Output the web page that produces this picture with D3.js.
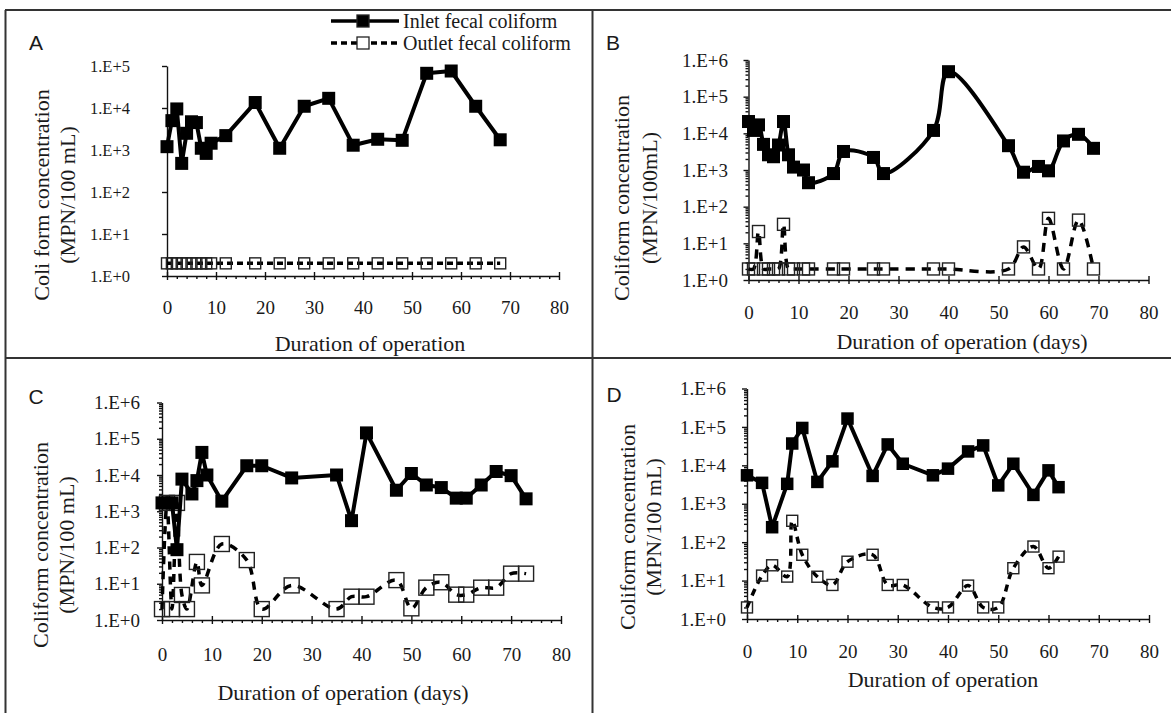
<!DOCTYPE html>
<html>
<head>
<meta charset="utf-8">
<script src="https://cdn.jsdelivr.net/npm/d3@7"></script>
<style>
  html, body { margin: 0; padding: 0; background: #fff; }
  svg { display: block; }
  text { font-family: "Liberation Serif", "Times New Roman", serif; fill: #1a1a1a; }
</style>
</head>
<body>
<svg id="fig" width="1171" height="713"></svg>
<script>
// ---- Panel A: fecal coliform, inlet vs outlet (MPN/100 mL) ----
const daysA   = [0, 1, 2, 3, 4, 5, 6, 7, 8, 9, 12, 18, 23, 28, 33, 38, 43, 48, 53, 58, 63, 68];
const inletA  = [1200, 5000, 9500, 480, 2500, 4700, 4500, 1100, 830, 1450, 2200, 13500, 1100, 11000, 17000, 1300, 1800, 1700, 67000, 76000, 11000, 1750];
const outletA = [2, 2, 2, 2, 2, 2, 2, 2, 2, 2, 2, 2, 2, 2, 2, 2, 2, 2, 2, 2, 2, 2];

// ---- Panel B ----
const daysB   = [0, 1, 2, 3, 4, 5, 6, 7, 8, 9, 11, 12, 17, 19, 25, 27, 37, 40, 52, 55, 58, 60, 63, 66, 69];
const inletB  = [21000, 12000, 17000, 5000, 2600, 2300, 4800, 21000, 2600, 1200, 1000, 450, 800, 3200, 2200, 800, 12000, 480000, 4600, 870, 1250, 950, 6200, 9400, 3900];
const outletB = [2, 2, 21, 2, 2, 2, 2, 33, 2, 2, 2, 2, 2, 2, 2, 2, 2, 2, 2, 8, 2, 48, 2, 43, 2];

// ---- Panel C ----
const daysC      = [0, 1, 2, 3, 4, 6, 7, 8, 9, 12, 17, 20, 26, 35, 38, 41, 47, 50, 53, 56, 59, 61, 64, 67, 70, 73];
const inletC     = [1700, 1700, 1700, 87, 7700, 3000, 7000, 42000, 10000, 1900, 18000, 18000, 8300, 10000, 550, 145000, 3800, 11000, 5300, 4500, 2300, 2300, 5300, 12500, 9600, 2200];
const outDaysC   = [0, 1, 2, 3, 4, 5, 7, 8, 12, 17, 20, 26, 35, 38, 41, 47, 50, 53, 56, 59, 61, 64, 67, 70, 73];
const outletC    = [2, 1700, 2, 1700, 4.9, 2, 40, 9, 125, 45, 2, 9, 2, 4.4, 4.4, 12.6, 2.1, 7.8, 11, 5, 5, 7.8, 7.8, 19, 19];

// ---- Panel D ----
const daysD   = [0, 3, 5, 8, 9, 11, 14, 17, 20, 25, 28, 31, 37, 40, 44, 47, 50, 53, 57, 60, 62];
const inletD  = [5500, 3500, 245, 3300, 37000, 94000, 3700, 12700, 165000, 5300, 35000, 11000, 5500, 8200, 23000, 33000, 3000, 11000, 1700, 7400, 2700];
const outletD = [2, 13.5, 25, 12.7, 360, 47, 12.6, 7.7, 31, 47, 7.7, 7.7, 2, 2, 7.4, 2, 2, 21, 77, 21, 42];

// ---- Axis ticks ----
const xTicks = [0, 10, 20, 30, 40, 50, 60, 70, 80];
const seriesNames = ["Inlet fecal coliform", "Outlet fecal coliform"];

const svg = d3.select("#fig");

// frame around the 2x2 grid
const frame = svg.append("g").attr("stroke", "#333").attr("stroke-width", 2).attr("fill", "none");
frame.append("line").attr("x1", 5).attr("y1", 10).attr("x2", 1171).attr("y2", 10);
frame.append("line").attr("x1", 5.5).attr("y1", 10).attr("x2", 5.5).attr("y2", 713);
frame.append("line").attr("x1", 592.5).attr("y1", 10).attr("x2", 592.5).attr("y2", 713);
frame.append("line").attr("x1", 5).attr("y1", 358).attr("x2", 1171).attr("y2", 358);

const panels = [
  { letter: "A", days: daysA, inlet: inletA, outDays: daysA, outlet: outletA, maxExp: 5,
    x0: 167, x1: 559, yBot: 276, yTop: 66, labelGap: 32, yFont: 16.5, xPad: 21, minorY: false,
    letterPos: [36, 50], yTitle: ["Coli form concentration", "(MPN/100 mL)"], yTitleX: [41, 67], yTitleY: 195,
    xTitle: "Duration of operation", xTitlePos: [370, 351],
    inSize: 13, outSize: 11, lw: 4, dash: "6,4", smoothIn: false, smoothOut: false },
  { letter: "B", days: daysB, inlet: inletB, outDays: daysB, outlet: outletB, maxExp: 6,
    x0: 748.5, x1: 1148.5, yBot: 280, yTop: 60, labelGap: 15.5, yFont: 19, xPad: 22, minorY: true,
    letterPos: [613, 50], yTitle: ["Coliform concentration", "(MPN/100mL)"], yTitleX: [621.5, 649], yTitleY: 198,
    xTitle: "Duration of operation (days)", xTitlePos: [962, 349],
    inSize: 13, outSize: 12, lw: 4, dash: "9,7", smoothIn: true, smoothOut: true },
  { letter: "C", days: daysC, inlet: inletC, outDays: outDaysC, outlet: outletC, maxExp: 6,
    x0: 162, x1: 561, yBot: 620, yTop: 402.5, labelGap: 17, yFont: 19, xPad: 24, minorY: true,
    letterPos: [36, 404], yTitle: ["Coliform concentration", "(MPN/100 mL)"], yTitleX: [40.6, 65.8], yTitleY: 545,
    xTitle: "Duration of operation (days)", xTitlePos: [343, 700],
    inSize: 13, outSize: 15, lw: 4, dash: "8,7", smoothIn: false, smoothOut: true },
  { letter: "D", days: daysD, inlet: inletD, outDays: daysD, outlet: outletD, maxExp: 6,
    x0: 747, x1: 1149, yBot: 619, yTop: 388.5, labelGap: 16, yFont: 19, xPad: 22, minorY: true,
    letterPos: [614, 402], yTitle: ["Coliform concentration", "(MPN/100 mL)"], yTitleX: [627, 653], yTitleY: 527,
    xTitle: "Duration of operation", xTitlePos: [943, 687],
    inSize: 12.5, outSize: 11, lw: 4, dash: "7,6", smoothIn: false, smoothOut: true }
];

function drawPanel(p) {
  const g = svg.append("g").attr("class", "panel-" + p.letter);
  const x = d3.scaleLinear().domain([0, 80]).range([p.x0, p.x1]);
  const y = d3.scaleLog().domain([1, Math.pow(10, p.maxExp)]).range([p.yBot, p.yTop]);

  // y axis (log, labelled 1.E+n)
  const majors = d3.range(0, p.maxExp + 1).map(e => Math.pow(10, e));
  const yAx = g.append("g").attr("transform", `translate(${p.x0},0)`)
    .call(d3.axisLeft(y).tickValues(majors).tickSize(5).tickSizeOuter(0).tickPadding(p.labelGap)
      .tickFormat(d => "1.E+" + Math.round(Math.log10(d))));
  yAx.selectAll("text").attr("font-size", p.yFont).attr("font-family", "Liberation Serif").attr("fill", "#1a1a1a");
  if (p.minorY) {
    const minors = [];
    for (let e = 0; e < p.maxExp; e++) for (let m = 2; m <= 9; m++) minors.push(m * Math.pow(10, e));
    g.append("g").attr("transform", `translate(${p.x0},0)`)
      .call(d3.axisLeft(y).tickValues(minors).tickSize(3).tickSizeOuter(0).tickFormat(""))
      .select(".domain").remove();
  }

  // x axis at the bottom of the log range
  const xAx = g.append("g").attr("transform", `translate(0,${p.yBot})`)
    .call(d3.axisBottom(x).tickValues(xTicks).tickSize(4).tickSizeOuter(0).tickPadding(p.xPad));
  xAx.selectAll(".tick line").attr("y1", -4);
  xAx.selectAll("text").attr("font-size", 19).attr("font-family", "Liberation Serif").attr("fill", "#1a1a1a");
  g.append("g").attr("transform", `translate(0,${p.yBot})`)
    .call(d3.axisBottom(x).tickValues(d3.range(2, 80, 2).filter(d => d % 10 !== 0)).tickSize(3).tickSizeOuter(0).tickFormat(""))
    .select(".domain").remove();

  g.selectAll(".domain, .tick line").attr("stroke", "#111").attr("stroke-width", 1.4);

  // series
  const inPts = p.days.map((d, i) => [d, p.inlet[i]]);
  const outPts = p.outDays.map((d, i) => [d, p.outlet[i]]);
  const lineIn = d3.line().x(d => x(d[0])).y(d => y(d[1])).curve(p.smoothIn ? d3.curveCatmullRom.alpha(0.5) : d3.curveLinear);
  const lineOut = d3.line().x(d => x(d[0])).y(d => y(d[1])).curve(p.smoothOut ? d3.curveCatmullRom.alpha(0.5) : d3.curveLinear);

  g.append("path").datum(outPts).attr("d", lineOut)
    .attr("fill", "none").attr("stroke", "#000").attr("stroke-width", p.lw - 0.5).attr("stroke-dasharray", p.dash);
  g.selectAll(".out-mk").data(outPts).join("rect").attr("class", "out-mk")
    .attr("x", d => x(d[0]) - p.outSize / 2).attr("y", d => y(d[1]) - p.outSize / 2)
    .attr("width", p.outSize).attr("height", p.outSize)
    .attr("fill", "none").attr("stroke", "#222").attr("stroke-width", 1.4);

  g.append("path").datum(inPts).attr("d", lineIn)
    .attr("fill", "none").attr("stroke", "#000").attr("stroke-width", p.lw).attr("stroke-linejoin", "round");
  g.selectAll(".in-mk").data(inPts).join("rect").attr("class", "in-mk")
    .attr("x", d => x(d[0]) - p.inSize / 2).attr("y", d => y(d[1]) - p.inSize / 2)
    .attr("width", p.inSize).attr("height", p.inSize).attr("fill", "#000");

  // titles
  g.append("text").attr("x", p.letterPos[0]).attr("y", p.letterPos[1])
    .style("font-family", "'Liberation Sans', Arial, sans-serif")
    .attr("font-size", 21).attr("text-anchor", "middle").text(p.letter);
  p.yTitle.forEach((t, i) => {
    g.append("text").attr("transform", `translate(${p.yTitleX[i]},${p.yTitleY}) rotate(-90)`)
      .attr("dy", "0.35em").attr("text-anchor", "middle").attr("font-size", 22).attr("fill", "#2e2018").text(t);
  });
  g.append("text").attr("x", p.xTitlePos[0]).attr("y", p.xTitlePos[1])
    .attr("text-anchor", "middle").attr("font-size", 22).text(p.xTitle);
}

panels.forEach(drawPanel);

// legend (panel A)
const leg = svg.append("g");
const legRows = [{ y: 21, dash: null, fill: "#000" }, { y: 43, dash: "6,4", fill: "#fff" }];
legRows.forEach((r, i) => {
  leg.append("line").attr("x1", 331).attr("x2", 399).attr("y1", r.y).attr("y2", r.y)
    .attr("stroke", "#000").attr("stroke-width", 3.5).attr("stroke-dasharray", r.dash);
  leg.append("rect").attr("x", 363 - 6).attr("y", r.y - 6).attr("width", 12).attr("height", 12)
    .attr("fill", r.fill).attr("stroke", "#222").attr("stroke-width", 1.3);
  leg.append("text").attr("x", 403).attr("y", r.y + 7).attr("font-size", 20).text(seriesNames[i]);
});
</script>
</body>
</html>
